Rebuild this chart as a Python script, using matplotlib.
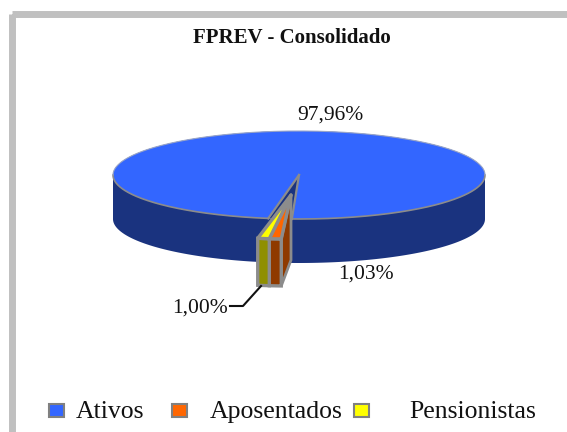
import numpy as np
import matplotlib
matplotlib.use("Agg")
import matplotlib.pyplot as plt
from matplotlib.patches import Polygon, Rectangle

title = "FPREV - Consolidado"
categories = ["Ativos", "Aposentados", "Pensionistas"]
values = [97.96, 1.03, 1.00]
value_labels = ["97,96%", "1,03%", "1,00%"]
top_colors = ["#3366ff", "#ff6600", "#ffff00"]
side_colors = ["#1a337f", "#8f3a00", "#8f8f00"]
edge_gray = "#8c8c8c"

plt.rcParams["font.family"] = ["Liberation Serif", "DejaVu Serif"]
fig = plt.figure(figsize=(5.67, 4.32), dpi=100, facecolor="white")
ax = fig.add_axes([0, 0, 1, 1])
ax.set_xlim(0, 567)
ax.set_ylim(432, 0)
ax.axis("off")

# frame
ax.add_patch(Rectangle((11.5, 13.5), 700, 600, fill=False, ec="#c0c0c0", lw=5.0, zorder=1))

cx, cy, rx, ry, depth = 299, 175, 186, 44, 44
ex, ey, depth_ex, wall_depth = 291, 195, 47, 65
start = 92.2
slice_start = 93.0
sweeps = np.array(values) / sum(values) * 360
a_or0, a_or1 = slice_start, slice_start + sweeps[1]
a_ye0, a_ye1 = a_or1, a_or1 + sweeps[2]
gap_end = start + sweeps[1] + sweeps[2]


def arc(a0, a1, x0, y0, n=200):
    t = np.radians(np.linspace(a0, a1, n))
    return np.column_stack([x0 + rx * np.cos(t), y0 + ry * np.sin(t)])


# main pie: side band
side = np.vstack([arc(0, 180, cx, cy), arc(180, 0, cx, cy + depth)])
ax.add_patch(Polygon(side, fc=side_colors[0], ec="none", zorder=2))

# main pie: top face, with the gap left by the small slices
top = np.vstack([[[cx, cy]], arc(gap_end, start + 360, cx, cy)])
ax.add_patch(Polygon(arc(0, 360, cx, cy), fc=side_colors[0], ec="none", zorder=3))
ax.add_patch(Polygon(top, fc=top_colors[0], ec="none", zorder=4))
ax.plot(*arc(0, start, cx, cy).T, color=edge_gray, lw=1.2, zorder=5)
ax.plot(*arc(gap_end, 180, cx, cy).T, color=edge_gray, lw=1.2, zorder=5)
ax.plot(*arc(180, 360, cx, cy).T, color="#9aa6c8", lw=0.8, zorder=5)
for a in (start, gap_end):
    p = arc(a, a, cx, cy, 1)[0]
    ax.plot([cx, p[0]], [cy, p[1]], color=edge_gray, lw=1.6, zorder=5)


# exploded slices
def slice3d(a0, a1, top_c, side_c):
    o = arc(a0, a1, ex, ey, 12)
    fr = np.vstack([o, o[::-1] + [0, depth_ex]])
    ax.add_patch(Polygon(fr, fc=side_c, ec=edge_gray, lw=2.4, joinstyle="miter", zorder=7))
    ax.add_patch(Polygon(np.vstack([[[ex, ey]], o]), fc=top_c, ec=edge_gray, lw=2.4,
                         joinstyle="round", zorder=8))


# inner wall behind the orange slice
p0 = arc(a_or0, a_or0, ex, ey, 1)[0]
wall = [[ex, ey], p0, p0 + [0, depth_ex], [ex, ey + wall_depth]]
ax.add_patch(Polygon(wall, fc=side_colors[1], ec=edge_gray, lw=2.0, zorder=6))
slice3d(a_or0, a_or1, top_colors[1], side_colors[1])
slice3d(a_ye0, a_ye1, top_colors[2], side_colors[2])

# labels
ax.text(292, 43, title, ha="center", va="baseline", fontsize=15, fontweight="bold", color="#111111")
ax.text(330, 120, value_labels[0], ha="center", va="baseline", fontsize=15.5, color="#111111")
ax.text(366, 279, value_labels[1], ha="center", va="baseline", fontsize=15.5, color="#111111")
ax.text(200, 313, value_labels[2], ha="center", va="baseline", fontsize=15.5, color="#111111")
ax.plot([230, 243, 261], [306, 306, 286], color="#111111", lw=1.5, zorder=9)

# legend
for c, bx, tx, name in zip(top_colors, [49, 172, 354], [76, 210, 409], categories):
    ax.add_patch(Rectangle((bx, 403.5), 15, 13, fc=c, ec="#808080", lw=1.5, zorder=3))
    ax.text(tx, 418, name, ha="left", va="baseline", fontsize=18.5, color="#111111")

fig.savefig("out.png", dpi=100)
